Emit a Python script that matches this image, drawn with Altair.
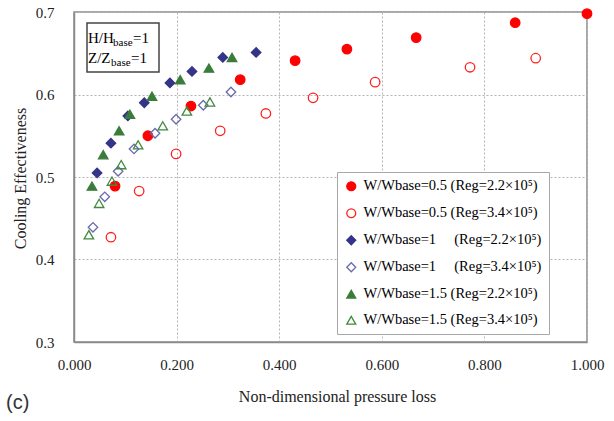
import altair as alt
import pandas as pd

# ---- data ----
labels = [
    "W/Wbase=0.5 (Reg=2.2×10⁵)",
    "W/Wbase=0.5 (Reg=3.4×10⁵)",
    "W/Wbase=1\u00a0\u00a0\u00a0\u00a0\u00a0(Reg=2.2×10⁵)",
    "W/Wbase=1\u00a0\u00a0\u00a0\u00a0\u00a0(Reg=3.4×10⁵)",
    "W/Wbase=1.5 (Reg=2.2×10⁵)",
    "W/Wbase=1.5 (Reg=3.4×10⁵)",
]

w05_lo_x = [0.080, 0.144, 0.228, 0.324, 0.431, 0.532, 0.667, 0.860, 1.000]
w05_lo_y = [0.489, 0.550, 0.586, 0.618, 0.641, 0.655, 0.669, 0.687, 0.698]

w05_hi_x = [0.072, 0.127, 0.199, 0.285, 0.374, 0.466, 0.587, 0.772, 0.900]
w05_hi_y = [0.427, 0.483, 0.528, 0.556, 0.577, 0.596, 0.615, 0.633, 0.644]

w1_lo_x = [0.045, 0.072, 0.105, 0.137, 0.187, 0.230, 0.290, 0.355]
w1_lo_y = [0.505, 0.541, 0.574, 0.590, 0.614, 0.628, 0.645, 0.651]

w1_hi_x = [0.037, 0.060, 0.086, 0.117, 0.158, 0.199, 0.252, 0.306]
w1_hi_y = [0.439, 0.476, 0.507, 0.534, 0.553, 0.570, 0.587, 0.603]

w15_lo_x = [0.035, 0.057, 0.088, 0.109, 0.152, 0.207, 0.263, 0.308]
w15_lo_y = [0.489, 0.527, 0.556, 0.576, 0.598, 0.618, 0.632, 0.645]

w15_hi_x = [0.029, 0.049, 0.074, 0.092, 0.125, 0.173, 0.220, 0.265]
w15_hi_y = [0.430, 0.468, 0.495, 0.515, 0.539, 0.562, 0.580, 0.591]

x_ticks = [0.0, 0.2, 0.4, 0.6, 0.8, 1.0]
y_ticks = [0.3, 0.4, 0.5, 0.6, 0.7]

series = [
    (labels[0], w05_lo_x, w05_lo_y),
    (labels[1], w05_hi_x, w05_hi_y),
    (labels[2], w1_lo_x, w1_lo_y),
    (labels[3], w1_hi_x, w1_hi_y),
    (labels[4], w15_lo_x, w15_lo_y),
    (labels[5], w15_hi_x, w15_hi_y),
]
rows = []
for lab, xs, ys in series:
    for xv, yv in zip(xs, ys):
        rows.append({"series": lab, "x": xv, "y": yv})
df = pd.DataFrame(rows)
one = pd.DataFrame({"k": [0]})

shapes = ["circle", "circle", "diamond", "diamond", "triangle-up", "triangle-up"]
fills = ["#ff0000", "transparent", "#343488", "transparent", "#3a7d3a", "transparent"]
strokes = ["#ff0000", "#ff2020", "#343488", "#6a6aae", "#3a7d3a", "#3f8a3f"]

SERIF = "Liberation Serif"

points = alt.Chart(df).mark_point(size=90, strokeWidth=1.3, opacity=1).encode(
    x=alt.X("x:Q", scale=alt.Scale(domain=[0, 1], nice=False, zero=False),
            axis=alt.Axis(values=x_ticks, format=".3f", labelFlush=False,
                          labelOverlap=False,
                          title="Non-dimensional pressure loss",
                          titleX=263, titleY=54, titleBaseline="middle",
                          titleAlign="center", labelPadding=15)),
    y=alt.Y("y:Q", scale=alt.Scale(domain=[0.3, 0.7], nice=False, zero=False),
            axis=alt.Axis(values=y_ticks, format=".1f", labelFlush=False,
                          labelOverlap=False,
                          title="Cooling Effectiveness",
                          titleX=-54, titleY=166, titleBaseline="middle",
                          titleAlign="center", labelPadding=20)),
    shape=alt.Shape("series:N", scale=alt.Scale(domain=labels, range=shapes), title=None),
    fill=alt.Fill("series:N", scale=alt.Scale(domain=labels, range=fills), title=None),
    stroke=alt.Stroke("series:N", scale=alt.Scale(domain=labels, range=strokes), title=None),
)

# annotation box top-left
box = alt.Chart(one).mark_rect(fill="white", stroke="#444444", strokeWidth=1.5).encode(
    x=alt.value(13), x2=alt.value(85), y=alt.value(11), y2=alt.value(60)
)

def txt(s, x, y, size, font=SERIF, color="black", baseline="alphabetic"):
    return alt.Chart(one).mark_text(text=s, font=font, fontSize=size, color=color,
                                    fontWeight="normal",
                                    align="left", baseline=baseline).encode(
        x=alt.value(x), y=alt.value(y))

ann = [
    txt("H/H", 14, 31, 15), txt("base", 39, 34, 11), txt(" =1", 59, 31, 15),
    txt("Z/Z", 14, 51, 15), txt("base", 37, 54, 11), txt("=1", 57, 51, 15),
    txt("(c)", -68, 391, 20, font="Liberation Sans", color="#333333", baseline="middle"),
]

chart = alt.layer(points, box, *ann).properties(
    width=513, height=330,
    autosize=alt.AutoSizeParams(type="none"),
    padding={"left": 74, "top": 12, "right": 27, "bottom": 79},
).configure_view(
    stroke="#8a8a8a", strokeWidth=1.5
).configure_axis(
    labelFont=SERIF, titleFont=SERIF, labelFontSize=15, titleFontSize=16,
    labelColor="#222222", titleColor="#222222", titleFontWeight="normal",
    grid=True, gridColor="#b5b5b5", gridDash=[2, 2], gridWidth=1,
    domain=True, domainColor="#8a8a8a", domainWidth=1.5,
    ticks=False, tickSize=0,
).configure_legend(
    orient="none", legendX=263, legendY=160,
    fillColor="white", strokeColor="#a8a8a8", padding=7,
    labelFont=SERIF, labelFontSize=14.5, labelColor="black", labelLimit=400,
    symbolSize=80, symbolStrokeWidth=1.3, rowPadding=11, labelOffset=5,
)

chart.save("out.html", embed_options={"renderer": "svg", "actions": False})
